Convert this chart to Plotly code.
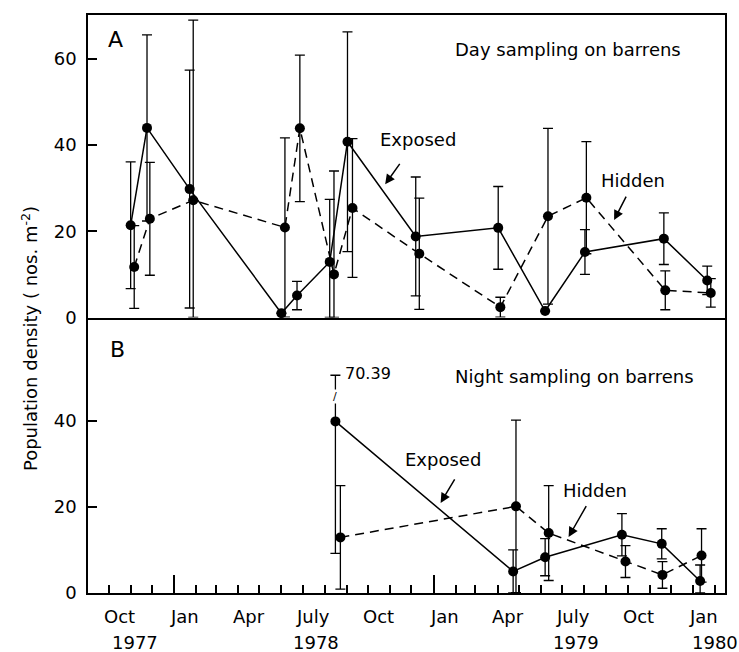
import plotly.graph_objects as go

# ---------------- data ----------------
day_exp_dates = ["1977-11-01", "1977-11-24", "1978-01-23", "1978-06-01", "1978-06-23",
                 "1978-08-08", "1978-09-02", "1978-12-07", "1979-04-02", "1979-06-07",
                 "1979-08-02", "1979-11-21", "1980-01-21"]
day_exp_vals = [21.4, 44.0, 29.8, 1.0, 5.1, 12.9, 40.8, 18.8, 20.8, 1.5, 15.2, 18.3, 8.6]
day_exp_err = [14.7, 21.6, 27.6, 0.0, 3.3, 14.5, 25.5, 13.8, 9.6, 0.0, 5.2, 6.0, 3.3]

day_hid_dates = ["1977-11-06", "1977-11-28", "1978-01-28", "1978-06-06", "1978-06-27",
                 "1978-08-14", "1978-09-09", "1978-12-12", "1979-04-05", "1979-06-11",
                 "1979-08-04", "1979-11-23", "1980-01-26"]
day_hid_vals = [11.7, 22.9, 27.2, 20.9, 43.9, 10.0, 25.4, 14.8, 2.4, 23.5, 27.8, 6.3, 5.7]
day_hid_err = [9.6, 13.1, 41.8, 20.8, 17.0, 24.0, 16.1, 12.9, 2.3, 20.4, 13.0, 4.5, 3.3]

night_exp_dates = ["1978-08-16", "1979-04-23", "1979-06-07", "1979-09-23", "1979-11-18", "1980-01-11"]
night_exp_vals = [39.8, 5.0, 8.3, 13.5, 11.4, 2.8]
night_exp_err = [30.59, 5.0, 4.3, 4.9, 3.5, 3.7]

night_hid_dates = ["1978-08-23", "1979-04-27", "1979-06-12", "1979-09-28", "1979-11-19", "1980-01-13"]
night_hid_vals = [12.9, 20.1, 13.9, 7.3, 4.2, 8.7]
night_hid_err = [12.0, 20.0, 11.0, 3.7, 3.1, 6.2]

night_break_level = 50.5          # where the long error bar is broken
night_break_label = "70.39"

month_label_dates = ["1977-10-16", "1978-01-16", "1978-04-16", "1978-07-16", "1978-10-16",
                     "1979-01-16", "1979-04-16", "1979-07-16", "1979-10-16", "1980-01-16"]
month_label_text = ["Oct", "Jan", "Apr", "July", "Oct", "Jan", "Apr", "July", "Oct", "Jan"]
year_label_dates = ["1977-11-07", "1978-07-19", "1979-07-21", "1980-02-01"]
year_label_text = ["1977", "1978", "1979", "1980"]
year_tick_dates = ["1978-01-01", "1979-01-01"]

x_range = ["1977-09-02", "1980-02-15"]
day_y_range = [0, 70.2]
night_y_range = [0, 63.9]
day_y_ticks = [0, 20, 40, 60]
night_y_ticks = [0, 20, 40]

FONT = "DejaVu Sans"
BLACK = "black"


def lower(vals, errs):
    return [min(e, v) for v, e in zip(vals, errs)]


def upper(vals, errs, cap=None):
    if cap is None:
        return list(errs)
    return [min(v + e, cap) - v for v, e in zip(vals, errs)]


fig = go.Figure()


def add_series(x, y, ep, em, dash, xa, ya):
    fig.add_trace(go.Scatter(
        x=x, y=y, xaxis=xa, yaxis=ya, mode="lines+markers",
        line=dict(color=BLACK, width=1.5, dash=dash),
        marker=dict(color=BLACK, size=10),
        error_y=dict(type="data", symmetric=False, array=ep, arrayminus=em,
                     color=BLACK, thickness=1.3, width=5),
        cliponaxis=False, hoverinfo="skip"))


add_series(day_exp_dates, day_exp_vals, upper(day_exp_vals, day_exp_err),
           lower(day_exp_vals, day_exp_err), "solid", "x", "y")
add_series(day_hid_dates, day_hid_vals, upper(day_hid_vals, day_hid_err),
           lower(day_hid_vals, day_hid_err), "9px,6px", "x", "y")
add_series(night_exp_dates, night_exp_vals,
           upper(night_exp_vals, night_exp_err, night_break_level),
           lower(night_exp_vals, night_exp_err), "solid", "x2", "y2")
add_series(night_hid_dates, night_hid_vals, upper(night_hid_vals, night_hid_err),
           lower(night_hid_vals, night_hid_err), "9px,6px", "x2", "y2")

split = 275.5 / 578.0
axis_common = dict(showline=True, linecolor=BLACK, linewidth=1.5,
                   showgrid=False, zeroline=False)
tickfont = dict(family=FONT, size=18, color=BLACK)

fig.update_layout(
    width=739, height=652,
    margin=dict(l=88, r=14, t=15, b=59),
    plot_bgcolor="white", paper_bgcolor="white",
    showlegend=False,
    font=dict(family=FONT, color=BLACK),
    xaxis=dict(domain=[0, 1], anchor="y", type="date", range=x_range,
               showticklabels=False, ticks="", mirror=True, **axis_common),
    yaxis=dict(domain=[split, 1], anchor="x", range=day_y_range, tickmode="array",
               tickvals=day_y_ticks, ticks="inside", ticklen=9, tickwidth=1.5,
               tickcolor=BLACK, tickfont=tickfont, ticklabelstandoff=6,
               mirror=True, **axis_common),
    xaxis2=dict(domain=[0, 1], anchor="y2", type="date", range=x_range,
                tickmode="array", tickvals=year_tick_dates, showticklabels=False,
                ticks="inside", ticklen=18, tickwidth=1.5, tickcolor=BLACK,
                minor=dict(tickmode="linear", tick0="1977-09-01", dtick="M1",
                           ticks="inside", ticklen=8, tickwidth=1.5, tickcolor=BLACK,
                           showgrid=False),
                mirror=False, **axis_common),
    yaxis2=dict(domain=[0, split], anchor="x2", range=night_y_range, tickmode="array",
                tickvals=night_y_ticks, ticks="inside", ticklen=9, tickwidth=1.5,
                tickcolor=BLACK, tickfont=tickfont, ticklabelstandoff=6,
                mirror=True, **axis_common),
)

ann = []
txt = dict(family=FONT, size=18, color=BLACK)
# x tick labels (months and years)
for d, t in zip(month_label_dates, month_label_text):
    ann.append(dict(text=t, x=d, y=-0.040, xref="x2", yref="paper", showarrow=False,
                    xanchor="center", yanchor="middle", font=tickfont))
for d, t in zip(year_label_dates, year_label_text):
    ann.append(dict(text=t, x=d, y=-0.085, xref="x2", yref="paper", showarrow=False,
                    xanchor="center", yanchor="middle", font=tickfont))
# panel letters and titles
ann.append(dict(text="A", x="1977-10-10", y=64.5, xref="x", yref="y", showarrow=False,
                font=dict(family=FONT, size=22, color=BLACK)))
ann.append(dict(text="B", x="1977-10-13", y=56.5, xref="x2", yref="y2", showarrow=False,
                font=dict(family=FONT, size=22, color=BLACK)))
ann.append(dict(text="Day sampling on barrens", x="1979-01-28", y=62.1, xref="x", yref="y",
                xanchor="left", showarrow=False, font=txt))
ann.append(dict(text="Night sampling on barrens", x="1979-01-28", y=50.2, xref="x2", yref="y2",
                xanchor="left", showarrow=False, font=txt))
# series labels
ann.append(dict(text="Exposed", x="1978-12-10", y=41.2, xref="x", yref="y", showarrow=False, font=txt))
ann.append(dict(text="Hidden", x="1979-10-08", y=31.9, xref="x", yref="y", showarrow=False, font=txt))
ann.append(dict(text="Exposed", x="1979-01-15", y=30.9, xref="x2", yref="y2", showarrow=False, font=txt))
ann.append(dict(text="Hidden", x="1979-08-16", y=23.7, xref="x2", yref="y2", showarrow=False, font=txt))
# arrows
arrow = dict(text="", showarrow=True, arrowhead=2, arrowsize=1.3, arrowwidth=1.5,
             arrowcolor=BLACK, standoff=0)
ann.append(dict(x="1978-10-25", y=30.9, ax="1978-11-16", ay=36.0, xref="x", yref="y",
                axref="x", ayref="y", **arrow))
ann.append(dict(x="1979-09-12", y=22.6, ax="1979-09-30", ay=28.4, xref="x", yref="y",
                axref="x", ayref="y", **arrow))
ann.append(dict(x="1979-01-11", y=20.9, ax="1979-02-01", ay=26.7, xref="x2", yref="y2",
                axref="x2", ayref="y2", **arrow))
ann.append(dict(x="1979-07-10", y=13.0, ax="1979-08-05", ay=20.5, xref="x2", yref="y2",
                axref="x2", ayref="y2", **arrow))
# broken error bar label
ann.append(dict(text=night_break_label, x="1978-08-27", y=night_break_level + 0.3,
                xref="x2", yref="y2", xanchor="left", showarrow=False,
                font=dict(family=FONT, size=16, color=BLACK)))
ann.append(dict(text="/", x=night_exp_dates[0], y=45.5, xref="x2", yref="y2",
                showarrow=False, bgcolor="white", borderpad=0,
                font=dict(family=FONT, size=11, color=BLACK)))
# y-axis title
ann.append(dict(text="Population density ( nos. m<sup>-2</sup>)", x=-0.092, y=0.44,
                xref="paper", yref="paper", textangle=-90, showarrow=False,
                xanchor="center", yanchor="middle",
                font=dict(family=FONT, size=18, color=BLACK)))

fig.update_layout(annotations=ann)

fig.write_html("out.html")
